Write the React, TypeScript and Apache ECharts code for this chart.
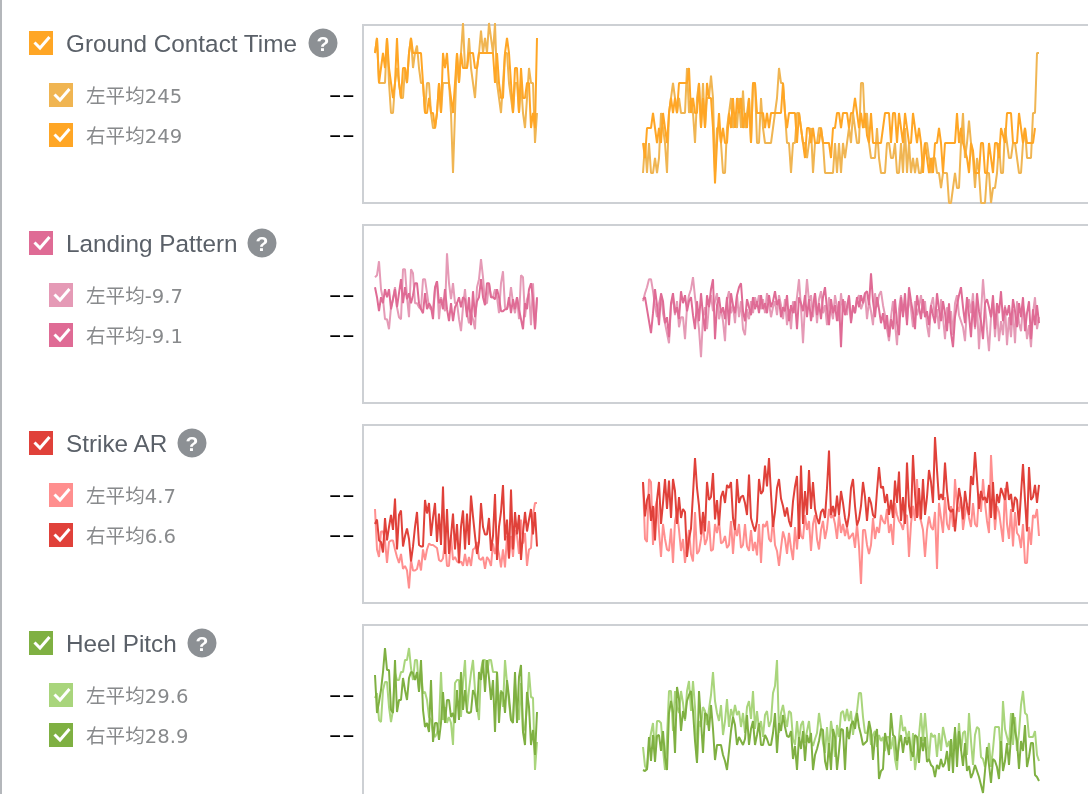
import React, { useEffect, useRef } from 'react';
import * as echarts from 'echarts';

// metric names, legend labels and the two sampled stretches of each metric
const titles = ['Ground Contact Time', 'Landing Pattern', 'Strike AR', 'Heel Pitch'];
const leftLabels = ['左平均245', '左平均-9.7', '左平均4.7', '左平均29.6'];
const rightLabels = ['右平均249', '右平均-9.1', '右平均6.6', '右平均28.9'];
const helpX = [323, 262, 192, 202];
const titleColors = ['#ffa625', '#df6b95', '#e0413a', '#7fb042'];
const leftColors = ['#f0b552', '#e59ab6', '#ff8f8f', '#a9d57c'];
const rightColors = ['#ffa625', '#df6b95', '#e0413a', '#7fb042'];
const yMins = [170, -56.9, -0.27, 20.8];
const yMaxs = [288.67, 32.1, 11.6, 38.6];

const gctLeftA = [270, 280, 250, 250, 250, 250, 280, 250, 230, 230, 250, 260, 250, 240, 240, 260, 250, 270, 280, 260, 270, 275, 260, 250, 250, 230, 250, 250, 230, 220, 220, 230, 250, 230, 250, 250, 250, 250, 230, 190, 230, 270, 250, 270, 290, 260, 260, 280, 260, 250, 240, 260, 270, 285, 270, 280, 270, 290, 280, 270, 290, 250, 240, 230, 250, 270, 270, 250, 240, 230, 250, 250, 230, 250, 230, 220, 240, 260, 250, 250, 210, 230];
const gctLeftB = [270, 280, 250, 260, 270, 260, 280, 260, 250, 240, 250, 280, 250, 240, 260, 260, 250, 270, 280, 270, 270, 270, 270, 270, 250, 230, 230, 240, 230, 230, 220, 230, 250, 230, 270, 260, 270, 250, 240, 230, 250, 270, 250, 270, 260, 260, 260, 270, 270, 270, 260, 260, 270, 270, 270, 270, 270, 270, 270, 270, 250, 270, 250, 240, 240, 270, 280, 270, 250, 230, 260, 260, 230, 260, 240, 240, 250, 250, 220, 230, 220, 280];
const gctRightA = [
  190, 210, 190, 210, 190, 190, 200, 190, 200, 230, 220, 210, 190, 230, 240, 250, 240, 230, 240, 230,
  230, 230, 260, 230, 240, 230, 210, 240, 250, 220, 250, 220, 240, 240, 255, 240, 190, 220, 220, 210,
  190, 190, 220, 230, 240, 220, 230, 220, 240, 220, 245, 220, 230, 240, 210, 250, 250, 210, 210, 240,
  220, 210, 210, 210, 210, 220, 230, 240, 260, 250, 250, 230, 210, 210, 190, 210, 210, 230, 230, 220,
  210, 210, 200, 210, 220, 190, 210, 210, 220, 220, 210, 190, 190, 190, 190, 190, 210, 190, 210, 190, 210,
  200, 210, 220, 210, 230, 220, 210, 210, 250, 250, 220, 230, 210, 200, 200, 200, 220, 200, 190, 190,
  190, 210, 210, 200, 200, 210, 190, 190, 210, 190, 220, 190, 210, 190, 200, 190, 200, 190, 190, 200,
  210, 210, 200, 190, 200, 200, 190, 190, 180, 190, 190, 190, 170, 170, 180, 190, 180, 180, 210, 230,
  200, 210, 225, 210, 200, 180, 200, 190, 170, 170, 170, 190, 190, 170, 180, 180, 190, 210, 190, 190,
  220, 210, 200, 200, 210, 210, 200, 190, 190, 210, 220, 200, 200, 200, 230, 230, 270, 270];
const gctRightB = [
  210, 200, 220, 220, 220, 230, 220, 210, 220, 210, 230, 220, 210, 230, 240, 230, 240, 230, 250, 250,
  250, 250, 250, 260, 230, 240, 230, 230, 250, 220, 240, 220, 250, 240, 240, 220, 183, 210, 230, 210,
  220, 210, 210, 230, 220, 240, 220, 240, 230, 240, 220, 230, 220, 240, 210, 250, 250, 230, 230, 230,
  230, 220, 230, 220, 230, 230, 230, 230, 230, 230, 250, 230, 220, 230, 230, 230, 230, 210, 230, 220,
  210, 200, 220, 220, 210, 220, 210, 210, 210, 220, 210, 210, 210, 210, 200, 220, 220, 230, 230, 220, 230,
  230, 230, 220, 230, 230, 240, 230, 220, 230, 220, 230, 215, 210, 230, 210, 210, 210, 210, 210, 220,
  230, 230, 230, 210, 230, 230, 210, 230, 220, 210, 230, 220, 210, 210, 230, 220, 210, 220, 210, 190,
  210, 200, 190, 200, 190, 210, 210, 220, 210, 190, 210, 210, 210, 210, 210, 210, 230, 210, 220, 210,
  205, 200, 190, 210, 205, 190, 190, 190, 210, 210, 190, 190, 210, 200, 190, 210, 210, 200, 220, 215,
  210, 230, 230, 230, 210, 210, 210, 230, 220, 210, 220, 210, 210, 210, 210, 220];

const landingLeftA = [6, 7, 14, 0, -5, -15, -15, -20, -9, -5, 1, -9, -14, -15, 10, 10, -4, -14, 10, 8, -7, -7, -9, -10, 5, 5, -2, -9, -10, -10, 0, 4, -15, -4, -7, -11, 18, 3, -5, 3, -7, -7, -15, -21, -9, 0, -12, -17, -12, -15, -20, 1, 5, 15, 6, -7, -7, 3, -4, -4, 0, -4, -12, 3, 9, -9, -10, -7, 1, -7, -12, -4, -15, 7, 6, -14, -5, -2, -18, 3, -20, -5];
const landingLeftB = [1, -4, -11, -4, -7, 0, -4, 0, -10, -5, 0, -9, -2, 5, -7, 1, -5, -2, -7, -3, 3, 3, -7, -10, -12, -2, -10, -7, -9, -15, 1, 4, -7, -5, -10, 0, -10, -16, -7, -16, -9, -7, -4, -9, -4, -5, -14, -4, -18, -1, -14, -6, -4, 5, -4, -8, 3, 3, -4, -4, -5, 0, -4, -11, -11, -10, -10, -4, -12, -5, -10, -4, -10, -15, -20, -7, -10, 0, 3, -5, -20, -4];
const landingRightA = [
  -6, -2, 1, 5, 5, -1, -8, -14, -7, -3, -12, -17, -22, -27, -8, -4, -13, -6, -19, -14,
  -14, -25, -9, -3, 0, 6, -4, -12, -20, -34, -14, -9, -20, -8, -3, -11, -6, -2, -15, -10,
  -16, -26, -5, -1, -12, -8, -17, -3, -14, -6, -20, -23, -10, -15, -6, -12, -4, -8, -3, -10,
  -5, -12, -2, -7, -14, -9, -6, -13, -3, -8, -15, -5, -18, -10, -20, -6, -12, -4, 5, -9,
  -27, -8, 5, -6, -3, -14, -2, -17, -5, -1, -12, -8, -18, -4, -10, -15, -3, -9, -16, -2,
  -11, -6, -13, -4, -16, -9, -12, -5, -3, -10, -7, -2, -15, -6, -11, -18, -2, -9, -3, -1,
  -8, -13, -20, -26, -14, -6, -17, -28, -10, -3, -12, -7, -16, -4, -10, -19, -6, -13, -9, -3,
  -12, -6, -18, -24, -8, -4, -15, -10, -20, -5, -14, -25, -9, -17, -11, -23, -7, -3, -13, -16,
  -19, -26, -9, -5, -12, -2, -20, -8, -30, -12, 5, -8, -20, -31, -14, -6, -24, -10, -26, -16,
  -23, -8, -28, -14, -24, -10, -27, -6, -17, -21, -8, -13, -25, -18, -29, -12, -4, -20, -14];
const landingRightB = [
  -5, -4, -10, -16, -22, -12, 0, -8, -18, -2, -6, -17, -14, -24, -7, -2, -12, -9, -15, -1,
  -7, -3, -11, -6, -4, -13, -20, -6, -16, -2, -13, -21, -3, -9, 0, 5, -25, -8, -4, -12,
  -9, -15, -4, -18, -2, -8, -12, -3, 1, 3, -11, -16, -5, -9, -13, -4, -10, -6, -12, -3,
  -10, -7, -12, -3, -9, -6, -1, -8, -5, -14, -9, -11, -3, -16, -8, -12, -6, -20, -4, -7,
  -11, -3, -14, -5, -16, -9, -2, -13, -7, -15, -4, 1, -10, -18, -5, -12, -8, -16, -6, -29,
  -5, -13, -9, -3, -17, -8, -12, -4, -9, -3, -7, -2, -1, -8, 8, -6, -14, -4, -10, -17,
  -12, -20, -13, -24, -15, -20, -5, -17, -23, -4, -14, -2, -18, 1, -6, -12, -20, -3, -9, -15,
  -5, -14, -11, -18, -8, -13, -17, -2, -10, -16, -6, -12, -21, -7, -22, -29, -14, -8, -3, 1,
  -9, -17, -4, -13, -24, -6, -19, -2, -11, -16, -25, -7, -5, -9, -14, -3, -20, -7, -12, -1,
  -16, -9, -13, -8, -18, -5, -11, -19, -7, -14, -4, -21, -12, -6, -25, -10, -18, -8, -17];

const strikeLeftA = [6.0, 3.3, 2.8, 4.5, 4.5, 3.9, 2.4, 3.8, 3.9, 3.9, 3.3, 2.8, 2.4, 3.0, 2.0, 2.2, 1.9, 0.7, 2.6, 1.9, 1.9, 2.0, 2.6, 1.9, 3.3, 2.6, 3.3, 3.7, 3.6, 3.6, 3.5, 3.4, 2.6, 2.5, 2.7, 3.9, 2.2, 2.2, 4.2, 2.6, 2.8, 2.5, 2.4, 2.5, 2.2, 3.0, 2.2, 2.8, 2.2, 3.3, 3.4, 3.8, 2.7, 2.6, 2.8, 2.0, 2.8, 2.6, 2.2, 3.7, 3.0, 3.6, 3.0, 2.1, 3.3, 2.1, 4.2, 2.7, 4.2, 2.8, 4.6, 4.2, 3.0, 5.3, 3.7, 4.4, 2.2, 3.3, 3.4, 5.6, 6.4, 6.4];
const strikeLeftB = [5.0, 5.3, 3.9, 3.8, 3.1, 5.4, 3.9, 4.8, 5.6, 4.6, 6.7, 3.3, 5.6, 5.9, 3.5, 4.2, 4.7, 4.0, 2.5, 3.5, 4.8, 5.8, 3.6, 3.5, 3.5, 6.6, 5.7, 6.4, 4.2, 5.4, 6.4, 3.8, 5.7, 3.6, 7.5, 3.0, 6.0, 3.0, 4.2, 5.7, 3.3, 5.0, 2.4, 4.8, 5.9, 3.3, 5.7, 3.6, 6.9, 5.5, 4.2, 3.0, 3.8, 6.4, 4.8, 4.3, 4.3, 5.4, 3.2, 4.2, 7.0, 2.6, 4.8, 5.8, 7.6, 3.9, 5.3, 2.7, 7.3, 3.3, 5.8, 4.3, 5.6, 2.6, 4.4, 5.8, 4.5, 5.3, 6.0, 4.3, 5.8, 3.5];
const strikeRightA = [
  7.8, 4.0, 3.8, 8.0, 7.8, 3.6, 6.0, 6.6, 4.5, 2.8, 5.0, 4.0, 3.3, 3.2, 4.7, 2.4, 5.2, 5.8, 4.6, 3.2,
  4.0, 2.4, 3.6, 4.6, 3.0, 2.5, 5.8, 3.0, 3.2, 4.0, 5.0, 3.6, 4.0, 5.2, 3.2, 3.3, 5.0, 4.4, 5.2, 3.7,
  3.8, 4.2, 3.4, 3.6, 5.2, 3.0, 4.8, 4.2, 5.0, 3.4, 3.6, 5.0, 3.5, 3.2, 4.6, 3.2, 3.8, 2.9, 5.0, 2.4,
  5.0, 4.8, 5.2, 4.0, 3.8, 5.4, 3.6, 3.2, 2.2, 3.4, 4.5, 4.0, 3.0, 4.4, 3.4, 2.6, 4.8, 3.3, 5.2, 4.2,
  4.0, 5.6, 4.6, 5.2, 3.2, 5.0, 5.6, 4.0, 3.3, 4.6, 5.2, 4.0, 4.7, 6.0, 5.4, 5.6, 5.0, 4.0, 5.6, 4.4,
  5.0, 4.2, 4.8, 4.0, 4.2, 4.4, 3.4, 5.0, 3.5, 1.0, 4.6, 4.6, 3.6, 3.0, 3.6, 5.4, 4.0, 4.8, 4.4, 5.6,
  5.2, 5.0, 6.0, 4.4, 5.0, 3.6, 6.4, 5.6, 5.2, 5.0, 4.6, 5.5, 5.6, 2.8, 5.0, 6.2, 5.2, 8.0, 5.6, 5.2,
  4.6, 2.8, 4.6, 5.5, 4.8, 4.6, 5.8, 2.0, 6.4, 5.4, 4.4, 6.8, 5.0, 4.6, 6.2, 4.8, 8.0, 6.2, 5.8, 6.8,
  4.6, 5.6, 6.4, 5.4, 4.8, 6.4, 5.0, 4.8, 7.0, 5.8, 8.0, 6.4, 5.2, 4.4, 9.6, 7.0, 4.6, 6.2, 5.8, 4.8,
  3.8, 7.4, 5.0, 4.0, 6.0, 3.5, 5.8, 4.4, 4.2, 3.4, 5.0, 2.4, 2.4, 4.8, 3.6, 5.6, 5.4, 6.0, 4.2];
const strikeRightB = [
  7.8, 5.5, 6.6, 7.0, 5.2, 6.2, 3.9, 6.6, 7.8, 5.0, 6.4, 8.0, 6.0, 7.9, 5.4, 8.0, 7.2, 5.0, 6.8, 5.4,
  6.0, 5.8, 2.8, 4.0, 4.7, 7.0, 9.4, 7.4, 6.2, 4.3, 5.8, 4.5, 7.8, 6.6, 6.8, 8.4, 5.3, 6.6, 4.9, 6.8,
  7.2, 6.4, 7.6, 7.4, 7.8, 5.4, 4.6, 8.0, 6.4, 6.8, 6.9, 6.4, 5.6, 8.3, 5.4, 4.9, 4.5, 5.2, 8.0, 7.0,
  7.2, 8.9, 7.5, 9.4, 7.0, 4.8, 5.8, 7.4, 8.0, 6.7, 6.2, 5.5, 6.1, 5.2, 4.8, 6.5, 7.5, 8.2, 4.0, 8.9,
  5.0, 7.2, 5.6, 8.6, 6.0, 7.8, 6.0, 5.4, 5.0, 5.8, 6.0, 5.4, 7.4, 9.9, 5.6, 6.2, 5.5, 6.9, 5.6, 7.2,
  6.4, 5.4, 4.8, 5.6, 7.4, 8.0, 6.2, 4.9, 5.3, 6.2, 7.8, 6.8, 5.2, 6.8, 6.4, 5.6, 5.4, 7.2, 8.8, 7.4,
  7.5, 6.4, 7.0, 5.6, 6.6, 5.4, 7.9, 6.4, 8.5, 5.2, 6.8, 5.0, 9.1, 6.2, 5.4, 9.6, 7.0, 5.4, 7.4, 5.3,
  8.0, 5.6, 6.8, 8.6, 7.8, 6.4, 10.8, 8.6, 6.6, 7.0, 6.6, 9.1, 7.2, 6.0, 5.8, 6.0, 4.5, 6.0, 7.4, 6.6,
  5.3, 7.2, 6.2, 5.6, 8.2, 7.6, 9.8, 8.0, 6.0, 7.2, 6.6, 6.8, 6.4, 7.6, 5.4, 7.8, 5.3, 7.0, 6.4, 7.4,
  7.0, 6.6, 7.8, 6.6, 7.0, 5.8, 6.8, 6.6, 4.9, 7.0, 9.0, 6.6, 4.5, 8.8, 6.6, 6.8, 7.6, 6.4, 7.6];

const heelLeftA = [31.3, 31.8, 29.1, 28.9, 32.1, 32.9, 32.9, 30.4, 28.9, 30.1, 33.8, 33.1, 33.1, 33.9, 33.9, 35.1, 35.1, 36.3, 34.3, 33.1, 35.1, 35.1, 32.1, 34.1, 31.8, 31.9, 31.1, 29.4, 29.1, 27.8, 27.4, 27.8, 28.8, 33.9, 29.1, 30.4, 28.8, 29.4, 28.8, 26.6, 32.8, 33.1, 33.1, 29.4, 32.9, 35.1, 30.1, 32.1, 33.8, 35.1, 32.1, 30.4, 29.1, 34.1, 35.1, 35.1, 33.8, 35.1, 35.1, 33.9, 33.9, 33.9, 30.4, 32.1, 30.4, 35.1, 32.8, 30.8, 29.1, 29.1, 32.8, 30.4, 29.1, 32.8, 27.9, 28.4, 30.4, 33.9, 31.4, 31.3, 24.1, 26.9];
const heelLeftB = [33.6, 29.8, 30.9, 32.1, 33.9, 36.3, 34.1, 34.1, 30.1, 29.8, 35.1, 29.9, 31.1, 31.1, 33.3, 32.1, 31.1, 33.3, 33.9, 33.8, 33.1, 33.9, 31.9, 35.1, 30.1, 28.4, 28.8, 27.9, 33.1, 26.9, 28.8, 28.8, 27.1, 28.8, 31.9, 28.8, 31.1, 31.1, 29.4, 29.8, 28.8, 32.1, 29.1, 33.9, 30.1, 32.1, 29.9, 29.8, 29.9, 32.1, 31.6, 29.9, 33.9, 33.1, 35.1, 31.9, 35.1, 33.3, 31.1, 33.1, 27.9, 33.9, 28.8, 31.9, 31.8, 29.8, 33.1, 31.4, 29.1, 28.8, 33.9, 28.8, 33.4, 34.6, 27.9, 26.6, 31.9, 30.4, 26.6, 28.1, 25.6, 29.9];
const heelRightA = [
  26.4, 24.5, 24.1, 26.6, 27.8, 28.8, 25.8, 29.0, 29.0, 28.8, 26.2, 24.1, 27.4, 32.0, 32.0, 28.0, 32.0, 30.4, 29.8, 32.0,
  30.8, 29.0, 32.0, 33.0, 30.0, 33.0, 30.4, 25.0, 29.0, 28.4, 30.4, 30.0, 28.6, 30.2, 31.6, 33.9, 31.0, 29.8, 29.0, 30.6,
  27.6, 29.0, 31.2, 28.4, 30.2, 29.4, 30.6, 29.6, 30.0, 28.4, 29.8, 27.8, 30.4, 31.0, 29.2, 32.0, 28.2, 30.0, 28.2, 29.0,
  27.4, 29.6, 30.0, 28.4, 29.0, 31.8, 32.5, 35.1, 27.8, 29.8, 30.6, 29.4, 28.4, 30.0, 29.8, 27.2, 26.6, 29.0, 27.0, 28.6,
  29.0, 26.8, 28.0, 29.0, 27.0, 26.5, 27.2, 27.8, 29.8, 28.4, 26.8, 25.8, 28.4, 26.0, 29.0, 27.6, 25.4, 28.6, 27.4, 29.8,
  30.0, 29.0, 30.2, 29.0, 30.0, 27.6, 29.2, 30.0, 31.8, 31.8, 29.4, 27.8, 27.8, 28.6, 26.6, 27.6, 28.0, 26.4, 27.6, 27.0,
  27.4, 26.0, 27.4, 27.4, 26.2, 27.4, 25.2, 24.1, 27.4, 29.6, 28.0, 28.4, 27.2, 28.0, 25.0, 27.8, 24.1, 25.6, 27.6, 29.8,
  27.0, 29.8, 27.4, 25.2, 27.8, 27.4, 27.6, 25.4, 27.8, 26.0, 28.4, 27.4, 26.4, 27.0, 25.6, 26.6, 28.0, 26.0, 28.8, 26.0,
  27.8, 28.0, 25.6, 29.8, 27.0, 24.6, 27.6, 28.4, 28.2, 25.4, 25.2, 24.4, 25.4, 26.8, 24.4, 26.2, 28.4, 28.4, 28.4, 25.4,
  31.0, 28.2, 27.4, 26.6, 29.8, 26.6, 29.4, 26.0, 27.8, 30.6, 32.0, 29.8, 29.6, 27.4, 27.4, 27.4, 28.0, 25.6, 25.0];
const heelRightB = [
  24.1, 24.0, 24.2, 27.4, 25.0, 27.6, 24.9, 27.5, 27.6, 26.0, 28.0, 25.4, 24.1, 29.8, 31.0, 29.9, 25.8, 32.4, 31.2, 28.0,
  30.0, 29.2, 31.0, 31.6, 32.0, 30.0, 27.0, 24.8, 32.0, 29.0, 25.8, 29.8, 29.6, 28.0, 30.6, 28.2, 25.1, 26.6, 26.6, 26.6,
  25.6, 25.0, 24.1, 26.0, 28.0, 29.4, 28.6, 26.6, 27.4, 27.0, 26.6, 27.2, 29.6, 26.6, 28.2, 29.0, 26.6, 27.6, 28.8, 26.6,
  26.6, 27.6, 27.2, 26.6, 26.6, 27.8, 29.8, 25.8, 28.8, 28.0, 29.6, 28.4, 27.5, 27.4, 28.0, 25.2, 26.5, 24.1, 27.4, 26.2,
  28.0, 25.0, 27.6, 26.8, 27.8, 24.1, 25.6, 26.2, 27.0, 28.2, 28.1, 25.0, 24.1, 26.8, 24.1, 28.2, 27.4, 24.1, 26.0, 28.2,
  28.1, 24.1, 28.4, 27.2, 28.6, 29.0, 28.2, 29.8, 28.4, 27.6, 26.6, 26.8, 27.0, 29.0, 28.0, 25.1, 27.4, 28.2, 23.2, 24.0,
  24.2, 27.8, 26.8, 25.6, 29.8, 27.6, 27.4, 25.0, 26.8, 27.6, 25.8, 27.4, 26.6, 27.4, 26.0, 25.4, 27.6, 27.4, 24.8, 27.4,
  26.0, 27.4, 24.9, 25.2, 24.6, 24.4, 23.4, 24.6, 24.2, 25.2, 24.4, 24.8, 26.0, 24.0, 27.2, 23.8, 28.4, 24.4, 28.0, 26.2,
  24.5, 26.8, 24.0, 24.5, 23.3, 23.8, 24.6, 24.0, 23.4, 22.6, 21.8, 24.0, 26.4, 24.6, 22.8, 25.2, 25.0, 24.4, 23.2, 27.0,
  24.0, 25.0, 26.8, 24.6, 27.4, 29.8, 28.0, 27.0, 24.2, 27.0, 26.0, 28.6, 24.4, 25.4, 26.8, 26.8, 23.6, 23.4, 23.0];

const leftStretches = [gctLeftA, landingLeftA, strikeLeftA, heelLeftA];
const leftStretchesB = [gctLeftB, landingLeftB, strikeLeftB, heelLeftB];
const rightStretches = [gctRightA, landingRightA, strikeRightA, heelRightA];
const rightStretchesB = [gctRightB, landingRightB, strikeRightB, heelRightB];

// sample numbers where the two recorded stretches begin
const LEFT_START = 6;
const GAP_AT = 120;
const RIGHT_START = 140;
const SAMPLES = 370;

const joinStretches = (left: number[], right: number[]) => [
  ...left.map((v, i) => [LEFT_START + i, v]),
  [GAP_AT, null],
  ...right.map((v, i) => [RIGHT_START + i, v]),
];

const checkbox = (x: number, y: number, color: string) => [
  { type: 'rect', shape: { x, y, width: 24, height: 24 }, style: { fill: color } },
  {
    type: 'polyline',
    shape: { points: [[x + 5.5, y + 11.5], [x + 11, y + 17], [x + 20.5, y + 6]] },
    style: { stroke: '#fff', lineWidth: 3, fill: 'none' },
  },
];

const text = (value: string, x: number, y: number, fill: string, fontSize: number, fontFamily: string, extra = {}) => ({
  type: 'text',
  style: { text: value, x, y, fill, fontSize, fontFamily, verticalAlign: 'middle', align: 'left', ...extra },
});

const SANS = '"Liberation Sans", Arial, sans-serif';
const LABEL = '"DejaVu Sans", "Noto Sans CJK SC", sans-serif';

// the no-data mark: long thin dashes, so the text is squashed in height
const noData = (y: number) => ({
  type: 'text',
  x: 328.5,
  y,
  scaleY: 0.55,
  style: { text: '--', x: 0, y: 0, fill: '#000', fontSize: 40, fontFamily: SANS, verticalAlign: 'middle', align: 'left' },
});

const App: React.FC = () => {
  const chartRef = useRef<HTMLDivElement>(null);

  useEffect(() => {
    if (!chartRef.current) return;

    const chart = echarts.init(chartRef.current, undefined, { renderer: 'svg' });

    const graphics: any[] = [
      { type: 'rect', shape: { x: 0, y: 0, width: 2, height: 830 }, style: { fill: '#b4b7bb' } },
    ];
    titles.forEach((title, p) => {
      const top = p * 200;
      graphics.push(
        ...checkbox(29, top + 31, titleColors[p]),
        text(title, 66, top + 43.5, '#5a6068', 24.3, SANS),
        { type: 'circle', shape: { cx: helpX[p], cy: top + 43, r: 14.5 }, style: { fill: '#8c9094' } },
        text('?', helpX[p], top + 43, '#fff', 21, SANS, { align: 'center', fontWeight: 'bold' }),
        ...checkbox(49, top + 83, leftColors[p]),
        text(leftLabels[p], 86, top + 96.5, '#888a8c', 19.6, LABEL),
        noData(top + 95),
        ...checkbox(49, top + 123, rightColors[p]),
        text(rightLabels[p], 86, top + 136.5, '#888a8c', 19.6, LABEL),
        noData(top + 135),
      );
    });

    const options: echarts.EChartsOption = {
      animation: false,
      graphic: graphics,
      grid: titles.map((_, p) => ({
        show: true,
        left: 363,
        top: 25 + p * 200,
        width: 740,
        height: 178,
        borderColor: '#cdd0d4',
        borderWidth: 2,
        backgroundColor: '#fff',
      })),
      xAxis: titles.map((_, p) => ({
        type: 'value',
        gridIndex: p,
        min: 0,
        max: SAMPLES,
        show: false,
        splitLine: { show: false },
      })),
      yAxis: titles.map((_, p) => ({
        type: 'value',
        gridIndex: p,
        min: yMins[p],
        max: yMaxs[p],
        show: false,
        splitLine: { show: false },
      })),
      series: titles.flatMap((title, p) => [
        {
          name: leftLabels[p],
          type: 'line',
          xAxisIndex: p,
          yAxisIndex: p,
          showSymbol: false,
          clip: false,
          connectNulls: false,
          lineStyle: { color: leftColors[p], width: 2 },
          data: joinStretches(leftStretches[p], rightStretches[p]),
        },
        {
          name: rightLabels[p],
          type: 'line',
          xAxisIndex: p,
          yAxisIndex: p,
          showSymbol: false,
          clip: false,
          connectNulls: false,
          lineStyle: { color: rightColors[p], width: 2 },
          data: joinStretches(leftStretchesB[p], rightStretchesB[p]),
        },
      ]) as any,
    };

    chart.setOption(options);

    return () => {
      chart.dispose();
    };
  }, []);

  // wider and taller than the window: the last plot frame runs off the page in the reference
  return <div ref={chartRef} style={{ position: 'fixed', left: 0, top: 0, width: 1130, height: 830 }} />;
};

export default App;
